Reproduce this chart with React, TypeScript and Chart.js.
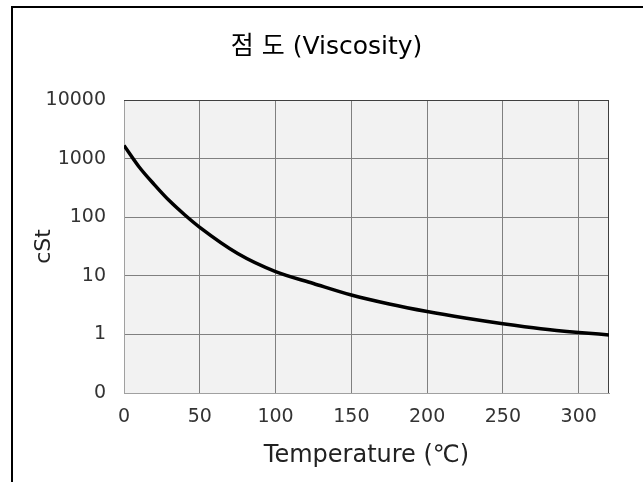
import React, { useEffect, useRef } from "react";
import { Chart, registerables } from "chart.js";

Chart.register(...registerables);

const chartTitle = "점 도 (Viscosity)";
const xAxisTitle = "Temperature (℃)";
const yAxisTitle = "cSt";

const temperatureC = [0, 10, 20, 30, 40, 50, 75, 100, 125, 150, 175, 200, 225, 250, 275, 300, 320];
const viscosityCSt = [1680, 720, 360, 190, 110, 67, 24, 11.8, 7.4, 4.7, 3.3, 2.45, 1.9, 1.52, 1.25, 1.08, 0.98];

const xMin = 0;
const xMax = 320;
const xTickValues = [0, 50, 100, 150, 200, 250, 300];
const yMin = 0.1;
const yMax = 10000;
const yTickValues = [0.1, 1, 10, 100, 1000, 10000];
const yTickLabels = ["0", "1", "10", "100", "1000", "10000"];

const FONT = "'DejaVu Sans', 'Noto Sans CJK KR', sans-serif";

export default function App() {
  const ref = useRef<HTMLCanvasElement>(null);

  useEffect(() => {
    document.body.style.margin = "0";
    const canvas = ref.current;
    if (!canvas) return;

    const decor = {
      id: "decor",
      beforeDraw(chart: any) {
        const { ctx, chartArea: a } = chart;
        ctx.save();
        ctx.fillStyle = "#f2f2f2";
        ctx.fillRect(a.left, a.top, a.right - a.left, a.bottom - a.top);
        ctx.restore();
      },
      beforeDatasetsDraw(chart: any) {
        const { ctx, chartArea: a } = chart;
        ctx.save();
        ctx.lineWidth = 1;
        ctx.strokeStyle = "#404040";
        const t = Math.round(a.top) + 0.5;
        const r = Math.round(a.right) - 0.5;
        ctx.beginPath();
        ctx.moveTo(a.left, t);
        ctx.lineTo(r + 0.5, t);
        ctx.moveTo(r, t);
        ctx.lineTo(r, a.bottom);
        ctx.stroke();
        ctx.restore();
      },
      afterDraw(chart: any) {
        const { ctx } = chart;
        ctx.save();
        ctx.font = `25px ${FONT}`;
        ctx.fillStyle = "#000";
        ctx.textAlign = "center";
        ctx.textBaseline = "middle";
        ctx.fillText(chartTitle, 326.5, 47);
        ctx.restore();
      },
    };

    const chart = new Chart(canvas, {
      type: "line",
      data: {
        datasets: [
          {
            data: temperatureC.map((t, i) => ({ x: t, y: viscosityCSt[i] })),
            borderColor: "#000",
            borderWidth: 3.5,
            pointRadius: 0,
            fill: false,
            cubicInterpolationMode: "monotone",
          },
        ],
      },
      options: {
        animation: false,
        responsive: false,
        devicePixelRatio: 1,
        layout: { padding: { top: 100, right: 34, left: 0, bottom: 0 } },
        plugins: {
          legend: { display: false },
          title: { display: false },
          tooltip: { enabled: false },
        },
        scales: {
          x: {
            type: "linear",
            min: xMin,
            max: xMax,
            afterBuildTicks: (s: any) => {
              s.ticks = xTickValues.map((v) => ({ value: v }));
            },
            afterFit: (s: any) => {
              s.height = 89;
            },
            grid: { color: "#808080", lineWidth: 1, drawTicks: false },
            border: { display: true, color: "#a0a0a0", width: 1 },
            ticks: {
              padding: 13,
              color: "#333",
              font: { family: FONT, size: 19 },
              maxRotation: 0,
            },
            title: {
              display: true,
              text: xAxisTitle,
              color: "#222",
              font: { family: FONT, size: 24 },
              padding: { top: 0, bottom: 12 },
            },
          },
          y: {
            type: "logarithmic",
            min: yMin,
            max: yMax,
            afterBuildTicks: (s: any) => {
              s.ticks = yTickValues.map((v) => ({ value: v }));
            },
            afterFit: (s: any) => {
              s.width = 124;
            },
            grid: { color: "#808080", lineWidth: 1, drawTicks: false },
            border: { display: true, color: "#a0a0a0", width: 1 },
            ticks: {
              padding: 18,
              color: "#333",
              font: { family: FONT, size: 19 },
              callback: (_v: any, i: number) => yTickLabels[i],
            },
            title: {
              display: true,
              text: yAxisTitle,
              color: "#222",
              font: { family: FONT, size: 22 },
              padding: { top: 31, bottom: 0 },
            },
          },
        },
      },
      plugins: [decor],
    } as any);

    return () => chart.destroy();
  }, []);

  return (
    <div style={{ position: "relative", width: 643, height: 482, overflow: "hidden", background: "#fff" }}>
      <canvas
        ref={ref}
        width={643}
        height={482}
        style={{ position: "absolute", left: 0, top: 0, width: 643, height: 482 }}
      />
      <div
        style={{
          position: "absolute",
          left: 11,
          top: 6,
          width: 700,
          height: 600,
          borderTop: "2px solid #000",
          borderLeft: "2px solid #000",
          pointerEvents: "none",
        }}
      />
    </div>
  );
}
